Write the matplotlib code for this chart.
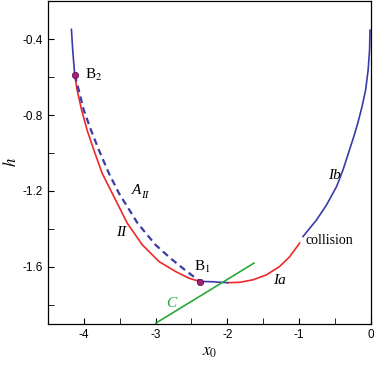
import numpy as np
import matplotlib.pyplot as plt

plt.rcParams['mathtext.fontset'] = 'stix'

# branch Ib (blue, right)
ib_x = [-0.014, -0.02, -0.04, -0.075, -0.125, -0.185, -0.24, -0.30, -0.39, -0.48, -0.62, -0.76, -0.947]
ib_y = [-0.353, -0.458, -0.563, -0.668, -0.756, -0.844, -0.914, -0.984, -1.089, -1.177, -1.274, -1.353, -1.44]
# branch Ia (red, right)
ia_x = [-0.993, -1.133, -1.273, -1.459, -1.646, -1.832, -1.996]
ia_y = [-1.474, -1.546, -1.598, -1.642, -1.668, -1.681, -1.683]
# blue piece between minimum and B1
mid_x = [-1.996, -2.088, -2.205, -2.3, -2.378]
mid_y = [-1.683, -1.681, -1.678, -1.677, -1.677]
# branch II (red, left)
ii_x = [-4.126, -4.093, -4.03, -3.954, -3.86, -3.744, -3.604, -3.394, -3.184, -2.951, -2.717, -2.531, -2.378]
ii_y = [-0.589, -0.668, -0.774, -0.879, -0.984, -1.107, -1.212, -1.37, -1.484, -1.572, -1.625, -1.66, -1.677]
# A_II (dashed blue)
aii_x = [-4.126, -4.07, -4.0, -3.9, -3.79, -3.65, -3.51, -3.25, -3.0, -2.79, -2.578, -2.378]
aii_y = [-0.589, -0.668, -0.774, -0.879, -0.984, -1.107, -1.212, -1.37, -1.484, -1.555, -1.62, -1.677]
# blue top left
top_x = [-4.172, -4.154, -4.126]
top_y = [-0.349, -0.458, -0.589]
# line C
c_x = [-2.997, -1.63]
c_y = [-1.896, -1.58]
# bifurcation points B2, B1
b_x = [-4.126, -2.378]
b_y = [-0.589, -1.677]

blue = '#3b3ba8'
red = '#f02828'
green = '#2aa83a'

fig = plt.figure(figsize=(3.74, 3.66), dpi=100)
ax = fig.add_axes([0.128, 0.115, 0.864, 0.882])

ax.plot(ib_x, ib_y, color=blue, lw=1.2)
ax.plot(ia_x, ia_y, color=red, lw=1.2)
ax.plot(mid_x, mid_y, color=blue, lw=1.2)
ax.plot(ii_x, ii_y, color=red, lw=1.2)
ax.plot(aii_x, aii_y, color=blue, lw=1.6, dashes=(3, 2))
ax.plot(top_x, top_y, color=blue, lw=1.2)
ax.plot(c_x, c_y, color=green, lw=1.2)
ax.plot(b_x, b_y, 'o', color='#a0207a', ms=4.5, mec='#601050', mew=0.6, zorder=5)

serif = 'Liberation Serif'
ax.text(-3.98, -0.59, r'B$_2$', family=serif, fontsize=11, va='center')
ax.text(-2.47, -1.6, r'B$_1$', family=serif, fontsize=11, va='center')
ax.text(-3.33, -1.2, 'A', family=serif, style='italic', fontsize=11, va='center')
ax.text(-3.2, -1.225, 'II', family=serif, style='italic', fontsize=8, va='center')
ax.text(-3.55, -1.42, 'II', family=serif, style='italic', fontsize=11, va='center')
ax.text(-2.85, -1.79, 'C', family=serif, style='italic', fontsize=11, va='center', color=green)
ax.text(-1.37, -1.67, 'Ia', family=serif, style='italic', fontsize=11, va='center')
ax.text(-0.91, -1.462, 'collision', family=serif, fontsize=10, va='center')
ax.text(-0.6, -1.12, 'Ib', family=serif, style='italic', fontsize=11, va='center')

ax.set_xlim(-4.5, 0)
ax.set_ylim(-1.9, -0.2)
ax.set_xticks([-4, -3, -2, -1, 0])
ax.set_xticks(np.arange(-4.5, 0, 0.5), minor=True)
ax.set_yticks([-1.6, -1.2, -0.8, -0.4])
ax.set_yticks(np.arange(-1.8, -0.2, 0.2), minor=True)
ax.set_xticklabels(['-4', '-3', '-2', '-1', '0'], family='Liberation Sans', fontsize=8.5)
ax.set_yticklabels(['-1.6', '-1.2', '-0.8', '-0.4'], family='Liberation Sans', fontsize=8.5)
ax.tick_params(which='both', direction='in', top=False, right=False, length=4)
ax.set_xlabel(r'$x_0$', fontsize=12, labelpad=1)
ax.set_ylabel(r'$h$', fontsize=12, labelpad=2)
for s in ax.spines.values():
    s.set_linewidth(0.9)

fig.savefig('out.png', dpi=100)
